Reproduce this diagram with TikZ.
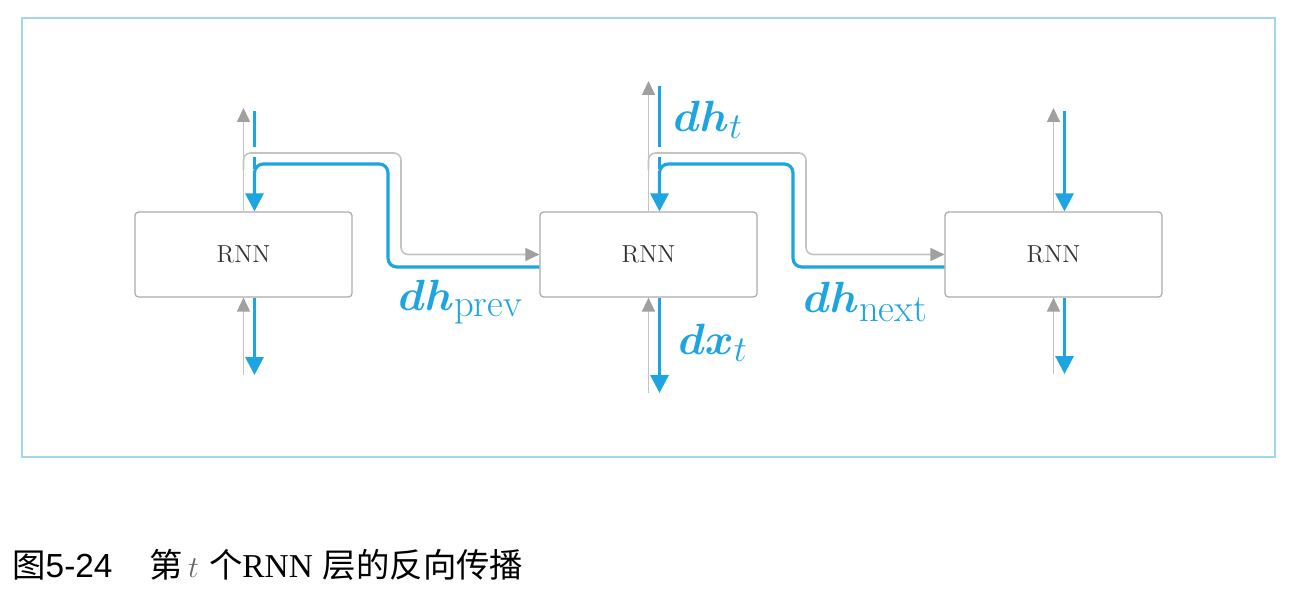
\documentclass[tikz,border=0pt]{standalone}
\usepackage{amsmath,amssymb}
\usepackage{bm}
\usepackage{fontspec}
\newfontfamily\cjk{Noto Sans CJK SC}
\newfontfamily\capsans{Liberation Sans}
\newfontfamily\capserif{Liberation Serif}
\usepackage{tikz}
\usetikzlibrary{arrows.meta,calc,positioning}

\definecolor{bpblue}{RGB}{29,165,225}
\definecolor{fwdgray}{RGB}{195,195,195}
\definecolor{tipgray}{RGB}{160,160,160}
\definecolor{boxgray}{RGB}{170,170,170}
\definecolor{framecol}{RGB}{160,215,235}

\newcommand{\subsz}[1]{\mbox{\fontsize{22}{24}\selectfont #1}}

\tikzset{
  rnnbox/.style = {draw = boxgray, line width = 0.7pt, rounded corners = 2pt,
                   minimum width = 4.34cm, minimum height = 1.7cm,
                   font = \fontsize{14}{16}\selectfont, text = black!80},
  fwd/.style    = {draw = fwdgray, line width = 0.9pt, rounded corners = 4pt,
                   -{Triangle[length = 2.8mm, width = 2.6mm, color = tipgray]}},
  bwd/.style    = {draw = bpblue, line width = 1.8pt, rounded corners = 5pt,
                   -{Triangle[length = 3.6mm, width = 3.6mm]}},
  bwdline/.style= {draw = bpblue, line width = 1.8pt},
  grad/.style   = {text = bpblue, font = \fontsize{27}{30}\selectfont, anchor = west, inner sep = 0pt}
}

\begin{document}
\begin{tikzpicture}[x = 0.02cm, y = -0.02cm]
  \useasboundingbox (0,0) rectangle (1290,604);
  % frame
  \path[draw = framecol, line width = 0.8pt](22,18) rectangle (1275,457);

  % RNN layers
  \node[rnnbox] (r1) at (243.5,254.5) {RNN};
  \node[rnnbox] (r2) at (648.5,254.5) {RNN};
  \node[rnnbox] (r3) at (1053.5,254.5) {RNN};

  % free ends of the vertical arrows
  \coordinate (t1) at (243.5,108);  \coordinate (b1) at (243.5,375);
  \coordinate (t2) at (648.5,81);   \coordinate (b2) at (648.5,393);
  \coordinate (t3) at (1053.5,108); \coordinate (b3) at (1053.5,374);

  % forward (gray)
  \foreach \i in {1,2,3}{
    \path[fwd](r\i.north) -- (t\i);
    \path[fwd](b\i) -- (r\i.south);
  }
  \path[fwd](243.5,170) -- (243.5,153) -- (401,153) -- (401,254.5) -- (r2.west);
  \path[fwd](648.5,170) -- (648.5,153) -- (806,153) -- (806,254.5) -- (r3.west);

  % backward (blue)
  \path[bwdline]([xshift = 0.22cm]t1 |- 0,111) -- ++(0,36);
  \path[bwdline]([xshift = 0.22cm]t2 |- 0,86) -- ++(0,61);
  \path[bwd]([xshift = 0.22cm]t3 |- 0,111) -- ([xshift = 0.22cm]r3.north);
  \path[bwdline]([xshift = 0.22cm]t1 |- 0,157) -- ++(0,12);
  \path[bwdline]([xshift = 0.22cm]t2 |- 0,157) -- ++(0,12);
  \path[bwd]([yshift = -0.25cm]r2.west) -- (388,267) -- (388,164) -- (254.5,164) -- ([xshift = 0.22cm]r1.north);
  \path[bwd]([yshift = -0.25cm]r3.west) -- (793,267) -- (793,164) -- (659.5,164) -- ([xshift = 0.22cm]r2.north);
  \foreach \i in {1,2,3}{
    \path[bwd]([xshift = 0.22cm]r\i.south) -- ([xshift = 0.22cm]b\i);
  }

  % labels
  \node[grad] (lprev) at (398,302) {$\bm{dh}_{\subsz{prev}}$};
  \node[grad] (lnext) at (803,302) {$\bm{dh}_{\subsz{next}}$};
  \node[grad] (lht) at (673,120) {$\bm{dh}_{\subsz{$t$}}$};
  \node[grad] (lxt) at (678,343) {$\bm{dx}_{\subsz{$t$}}$};

  % caption
  \node[anchor = west, inner sep = 0pt, font = \fontsize{19}{22}\selectfont] (cap) at (12,565)
    {{\cjk 图}{\capsans 5-24}\hspace{1.1em}{\cjk 第}\,{\color{black!60}$t$}\ {\cjk 个}{\capserif RNN} {\cjk 层的反向传播}};
\end{tikzpicture}
\end{document}
